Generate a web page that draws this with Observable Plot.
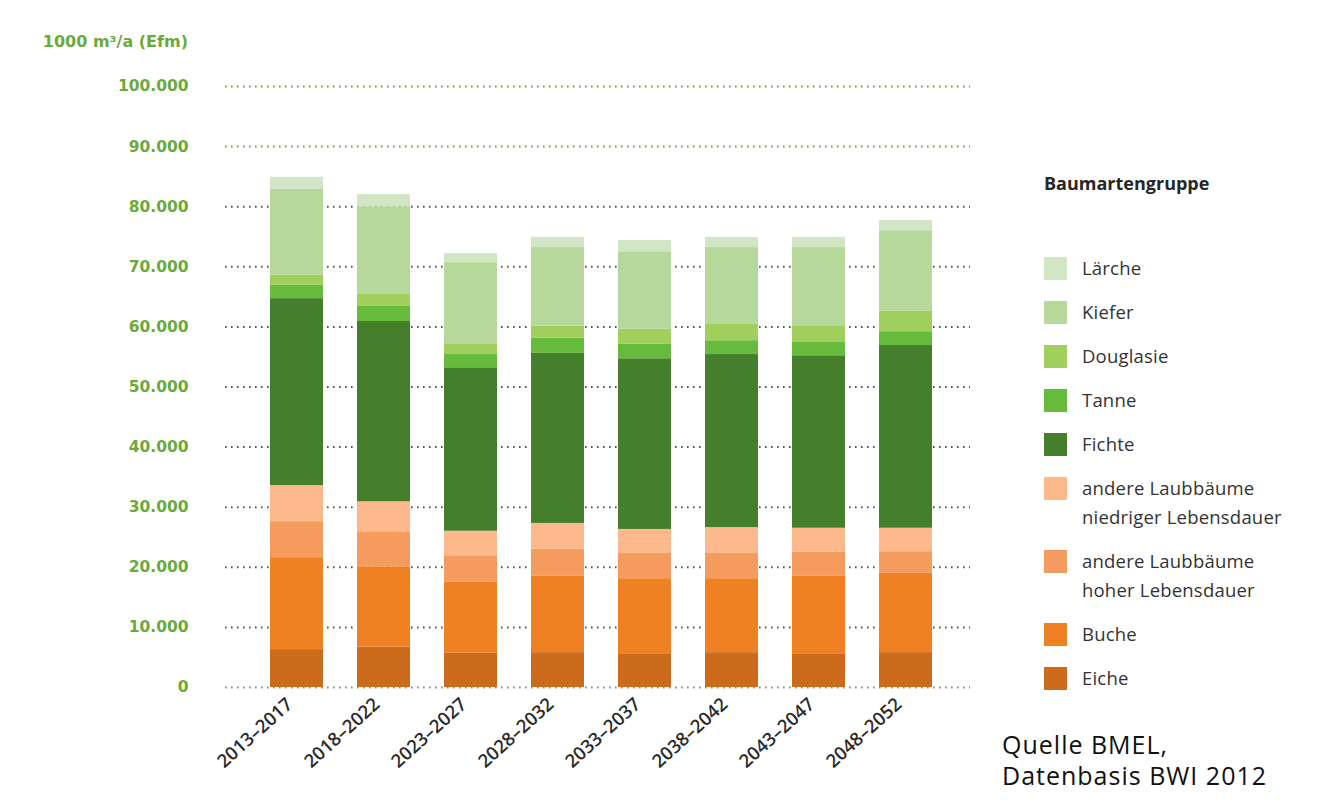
<!DOCTYPE html>
<html><head><meta charset="utf-8">
<script src="https://cdn.jsdelivr.net/npm/d3@7"></script>
<script src="https://cdn.jsdelivr.net/npm/@observablehq/plot@0.6"></script>
<style>
html,body{margin:0;padding:0;background:#fff}
body{width:1335px;height:803px;position:relative;overflow:hidden;font-family:"Open Sans",sans-serif}
#chart{position:absolute;left:0;top:0}
#ylab{position:absolute;right:1147px;top:32px;font-family:"DejaVu Sans",sans-serif;font-weight:bold;font-size:16px;color:#6aaa3a;white-space:nowrap}
#legend{position:absolute;left:1044px;top:170px;color:#333}
#legend .title{font-weight:bold;font-size:18px;color:#262626;line-height:26px;margin-bottom:58px}
#legend .item{display:flex;align-items:flex-start;margin-bottom:16px}
#legend .sw{width:23px;height:23px;margin-top:3px;margin-right:15px;flex:none}
#legend .lab{font-size:18.5px;line-height:29px;margin-top:-1px;letter-spacing:0.2px}
#caption{position:absolute;left:1002px;top:729px;font-size:25px;line-height:31px;color:#111;letter-spacing:1px}
</style></head><body>
<div id="chart"></div>
<div id="ylab">1000 m³/a (Efm)</div>
<div id="legend"></div>
<div id="caption">Quelle BMEL,<br>Datenbasis BWI 2012</div>
<script>
const periods = ["2013–2017","2018–2022","2023–2027","2028–2032","2033–2037","2038–2042","2043–2047","2048–2052"];
const species = ["Eiche","Buche","andere Laubbäume hoher Lebensdauer","andere Laubbäume niedriger Lebensdauer","Fichte","Tanne","Douglasie","Kiefer","Lärche"];
const legendLabels = ["Eiche","Buche","andere Laubbäume<br>hoher Lebensdauer","andere Laubbäume<br>niedriger Lebensdauer","Fichte","Tanne","Douglasie","Kiefer","Lärche"];
const colors = ["#cd6b1c","#f08123","#f59b5d","#fdb98b","#457f2c","#66bb3c","#a0cf5e","#b6d99b","#d2e6c6"];
const eiche       = [6300,6700,5700,5800,5500,5800,5500,5800];
const buche       = [15300,13300,11800,12700,12600,12300,13000,13200];
const laubHoch    = [6000,5800,4300,4500,4200,4200,4000,3600];
const laubNiedrig = [6000,5100,4200,4300,4000,4300,4000,3900];
const fichte      = [31100,30000,27200,28300,28400,28800,28700,30400];
const tanne       = [2200,2500,2200,2500,2400,2300,2200,2300];
const douglasie   = [1700,2000,1800,2000,2500,2700,2800,3400];
const kiefer      = [14300,14600,13500,13100,12900,12800,13000,13400];
const laerche     = [2000,2000,1500,1700,1900,1700,1700,1700];
const yTicks = [0,10000,20000,30000,40000,50000,60000,70000,80000,90000,100000];

const series = [eiche,buche,laubHoch,laubNiedrig,fichte,tanne,douglasie,kiefer,laerche];
const data = species.flatMap((s,i)=>periods.map((p,j)=>({period:p,species:s,value:series[i][j]})));
const fmt = d => d3.format(",")(d).replace(/,/g,".");

const plot = Plot.plot({
  width:1335, height:803,
  marginLeft:225, marginRight:365, marginTop:86, marginBottom:116,
  style:{fontFamily:"DejaVu Sans, sans-serif", background:"transparent", overflow:"visible"},
  x:{domain:periods, range:[266,936], paddingInner:0.386, paddingOuter:0, label:null},
  y:{domain:[0,100000], label:null},
  color:{domain:species, range:colors},
  marks:[
    Plot.ruleY(yTicks.filter(d=>d>0 && d<90000), {stroke:"#4f5a45", strokeWidth:2, strokeDasharray:"1.6,4.4"}),
    Plot.ruleY(yTicks.filter(d=>d>=90000), {stroke:"#6f9f48", strokeWidth:2, strokeDasharray:"1.6,4.4"}),
    Plot.barY(data, {x:"period", y:"value", fill:"species", order:species}),
    Plot.ruleY([0], {stroke:"#6f9f48", strokeWidth:2, strokeDasharray:"1.6,4.4"}),
    Plot.axisY({ticks:yTicks, tickSize:0, tickPadding:37, tickFormat:fmt, fill:"#6aaa3a", fontWeight:"bold", fontSize:15.5, label:null}),
    Plot.axisX({tickSize:0, tickPadding:14, dx:-7, tickRotate:-42, fontSize:18.5, fontWeight:600, fill:"#2a2a2a", fontFamily:"Open Sans, sans-serif", label:null})
  ]
});
document.getElementById("chart").appendChild(plot);

const leg = document.getElementById("legend");
let html = '<div class="title">Baumartengruppe</div>';
for (let i = species.length-1; i >= 0; i--) {
  html += `<div class="item"><div class="sw" style="background:${colors[i]}"></div><div class="lab">${legendLabels[i]}</div></div>`;
}
leg.innerHTML = html;
</script>
</body></html>
